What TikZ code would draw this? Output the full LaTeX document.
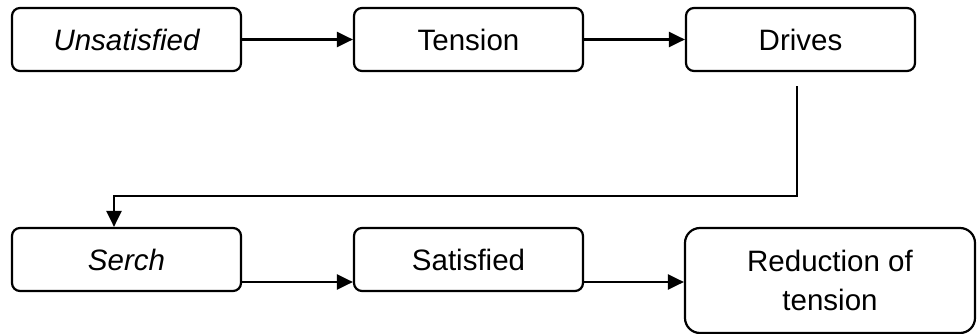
\documentclass[tikz,border=0pt]{standalone}
\usepackage{fontspec}
\setmainfont{Liberation Sans}
\usetikzlibrary{arrows.meta,calc}
\begin{document}
\begin{tikzpicture}[x=1pt,y=1pt,
  box/.style={draw,line width=2.2pt,rounded corners=8pt,minimum width=229pt,minimum height=63pt,inner sep=0pt,font=\fontsize{29.5}{39}\selectfont},
  bigbox/.style={draw,line width=2.2pt,rounded corners=15pt,minimum width=290pt,minimum height=105pt,inner sep=0pt,align=center,font=\fontsize{29.5}{39}\selectfont},
  arr/.style={line width=2.2pt,-{Triangle[length=16pt,width=15pt]}},
  conn/.style={line width=2.2pt}]
\useasboundingbox (0,0) rectangle (977,-334);
\node[box] (uns) at (126.5,-39.5) {\itshape Unsatisfied};
\node[box] (ten) at (468.5,-39.5) {Tension};
\node[box] (dri) at (800.5,-39.5) {Drives};
\node[box] (ser) at (126.5,-259.5) {\itshape Serch};
\node[box] (sat) at (468.5,-259.5) {Satisfied};
\node[bigbox] (red) at (830,-280.5) {Reduction of\\tension};
\coordinate (bend) at (114,-196);
\draw[arr] (uns) -- (ten);
\draw[arr] (ten) -- (dri);
\draw[arr] ([xshift=-3.5pt,yshift=-14pt]dri.south) |- (bend) -- (bend |- ser.north);
\draw[arr] ([yshift=-22.5pt]ser.east) -- ([yshift=-22.5pt]sat.west);
\draw[arr] ([yshift=-22.5pt]sat.east) -- ([yshift=-22.5pt]sat.east -| red.west);
\end{tikzpicture}
\end{document}
